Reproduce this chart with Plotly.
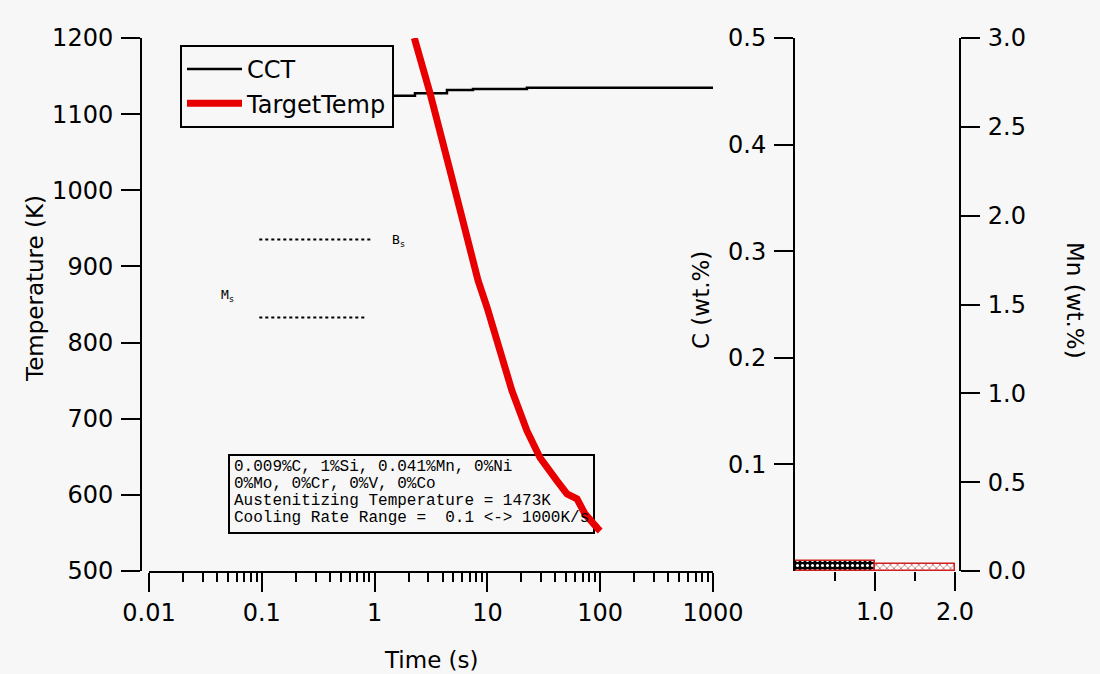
import plotly.graph_objects as go

# --- CCT diagram data -------------------------------------------------------
cct_time = [1.0, 2.28, 4.38, 7.45, 22.4, 1000]          # s
cct_temp = [1124, 1127.3, 1131.6, 1133, 1134.6, 1134.6]  # K

target_time = [2.25, 3.10, 4.66, 5.96, 8.26, 9.94, 12.2, 16.5, 22.4,
               29.3, 41.4, 50.8, 62.3, 73.3, 95.6, 100]
target_temp = [1200, 1127.6, 1026.3, 964.5, 881.6, 846, 802.6, 736.8, 684.2,
               648.7, 618.4, 601.3, 594.7, 575, 555.3, 552.6]

bs_time = [0.095, 0.95]
bs_temp = [935.5, 935.5]
ms_time = [0.095, 0.82]
ms_temp = [833, 833]

# --- composition bars --------------------------------------------------------
carbon_wt = 0.009
manganese_wt = 0.041

info_lines = [
    "0.009%C, 1%Si, 0.041%Mn, 0%Ni",
    "0%Mo, 0%Cr, 0%V, 0%Co",
    "Austenitizing Temperature = 1473K",
    "Cooling Rate Range =  0.1 <-> 1000K/s",
]

x_ticks = [0.01, 0.1, 1, 10, 100, 1000]
x_ticktext = ["0.01", "0.1", "1", "10", "100", "1000"]
temp_ticks = [500, 600, 700, 800, 900, 1000, 1100, 1200]
c_ticks = [0.1, 0.2, 0.3, 0.4, 0.5]
mn_ticks = [0.0, 0.5, 1.0, 1.5, 2.0, 2.5, 3.0]

W, H = 1100, 674
BG = "#f7f7f7"
FONT = "DejaVu Sans, Verdana, sans-serif"
TICKFONT = dict(family=FONT, size=24, color="black")


def px(x):
    return x / W


def py(y):
    return (H - y) / H


fig = go.Figure()

fig.add_trace(go.Scatter(
    x=cct_time, y=cct_temp, mode="lines", name="CCT",
    line=dict(color="black", width=2.5, shape="hv"),
    xaxis="x", yaxis="y"))
fig.add_trace(go.Scatter(
    x=target_time, y=target_temp, mode="lines", name="TargetTemp",
    line=dict(color="#e80000", width=7),
    xaxis="x", yaxis="y"))
fig.add_trace(go.Scatter(
    x=bs_time, y=bs_temp, mode="lines", showlegend=False,
    line=dict(color="black", width=2, dash="dot"),
    xaxis="x", yaxis="y"))
fig.add_trace(go.Scatter(
    x=ms_time, y=ms_temp, mode="lines", showlegend=False,
    line=dict(color="black", width=2, dash="dot"),
    xaxis="x", yaxis="y"))

fig.add_trace(go.Bar(
    x=[0.5], y=[carbon_wt], width=[1], showlegend=False,
    marker=dict(color="black", line=dict(color="#d02020", width=1.5),
                pattern=dict(shape=".", fgcolor="white", bgcolor="black",
                             size=5, solidity=0.3, fillmode="replace")),
    xaxis="x2", yaxis="y2"))
fig.add_trace(go.Bar(
    x=[1.5], y=[manganese_wt], width=[1], showlegend=False,
    marker=dict(color="white", line=dict(color="#d02020", width=1.5),
                pattern=dict(shape="x", fgcolor="#c07070", bgcolor="white",
                             size=5, solidity=0.3, fillmode="replace")),
    xaxis="x2", yaxis="y3"))

y_dom = [py(571), py(38)]
axis_common = dict(showgrid=False, zeroline=False, showline=True,
                   linecolor="black", linewidth=2, ticks="outside",
                   ticklen=19, tickwidth=2, tickcolor="black",
                   tickfont=TICKFONT, automargin=False)

fig.update_layout(
    width=W, height=H,
    margin=dict(l=0, r=0, t=0, b=0),
    paper_bgcolor=BG, plot_bgcolor=BG,
    showlegend=True,
    legend=dict(x=px(180), y=py(45), xanchor="left", yanchor="top",
                bgcolor=BG, bordercolor="black", borderwidth=2,
                font=dict(family=FONT, size=24, color="black"),
                tracegroupgap=0, itemwidth=55),
    xaxis=dict(
        axis_common, type="log", range=[-2, 3],
        domain=[px(149), px(713)], anchor="y",
        tickvals=x_ticks, ticktext=x_ticktext,
        minor=dict(ticks="outside", ticklen=9, tickwidth=2,
                   tickcolor="black", dtick="D1", showgrid=False)),
    yaxis=dict(
        axis_common, range=[500, 1200], domain=y_dom,
        anchor="free", position=px(141), tickvals=temp_ticks,
        ticklabelstandoff=3),
    xaxis2=dict(
        axis_common, showline=False, range=[0, 2],
        domain=[px(795), px(955)], anchor="y2",
        tickvals=[1, 2], ticktext=["1.0", "2.0"],
        minor=dict(ticks="outside", ticklen=9, tickwidth=2,
                   tickcolor="black", tickvals=[0.5, 1.5])),
    yaxis2=dict(
        axis_common, range=[0, 0.5], domain=y_dom,
        anchor="x2", side="left", tickvals=c_ticks,
        ticktext=[f"{v:.1f}" for v in c_ticks], ticklabelstandoff=3),
    yaxis3=dict(
        axis_common, range=[0, 3], domain=y_dom,
        overlaying="y2", anchor="free", side="right", position=px(960),
        tickvals=mn_ticks, ticktext=[f"{v:.1f}" for v in mn_ticks],
        ticklabelstandoff=3),
    bargap=0,
)

title_font = dict(family=FONT, size=23, color="black")
centered = dict(xref="paper", yref="paper", showarrow=False,
                xanchor="center", yanchor="middle", font=title_font)
annotations = [
    dict(centered, text="Time (s)", x=px(431), y=py(660)),
    dict(centered, text="Temperature (K)", x=px(35), y=py(288),
         textangle=-90),
    dict(centered, text="C (wt.%)", x=px(701), y=py(300), textangle=-90),
    dict(centered, text="Mn (wt.%)", x=px(1075), y=py(300), textangle=90),
    dict(text="B<sub>s</sub>", x=0.14, y=934, xref="x", yref="y",
         showarrow=False, xanchor="left", yanchor="middle",
         font=dict(family="DejaVu Sans Mono", size=13, color="black")),
    dict(text="M<sub>s</sub>", x=-1.3, y=862, xref="x", yref="y",
         showarrow=False, xanchor="center", yanchor="middle",
         font=dict(family="DejaVu Sans Mono", size=13, color="black")),
]
for i, line in enumerate(info_lines):
    annotations.append(dict(
        text=line, x=px(232), y=py(467 + 17 * i), xref="paper", yref="paper",
        xanchor="left", yanchor="middle", showarrow=False,
        font=dict(family="Liberation Mono, Courier New, monospace", size=16,
                  color="black")))
fig.update_layout(annotations=annotations)

fig.add_shape(type="rect", xref="paper", yref="paper",
              x0=px(229), x1=px(594), y0=py(533), y1=py(455),
              line=dict(color="black", width=2), fillcolor=BG, layer="below")

fig.write_html("out.html")
